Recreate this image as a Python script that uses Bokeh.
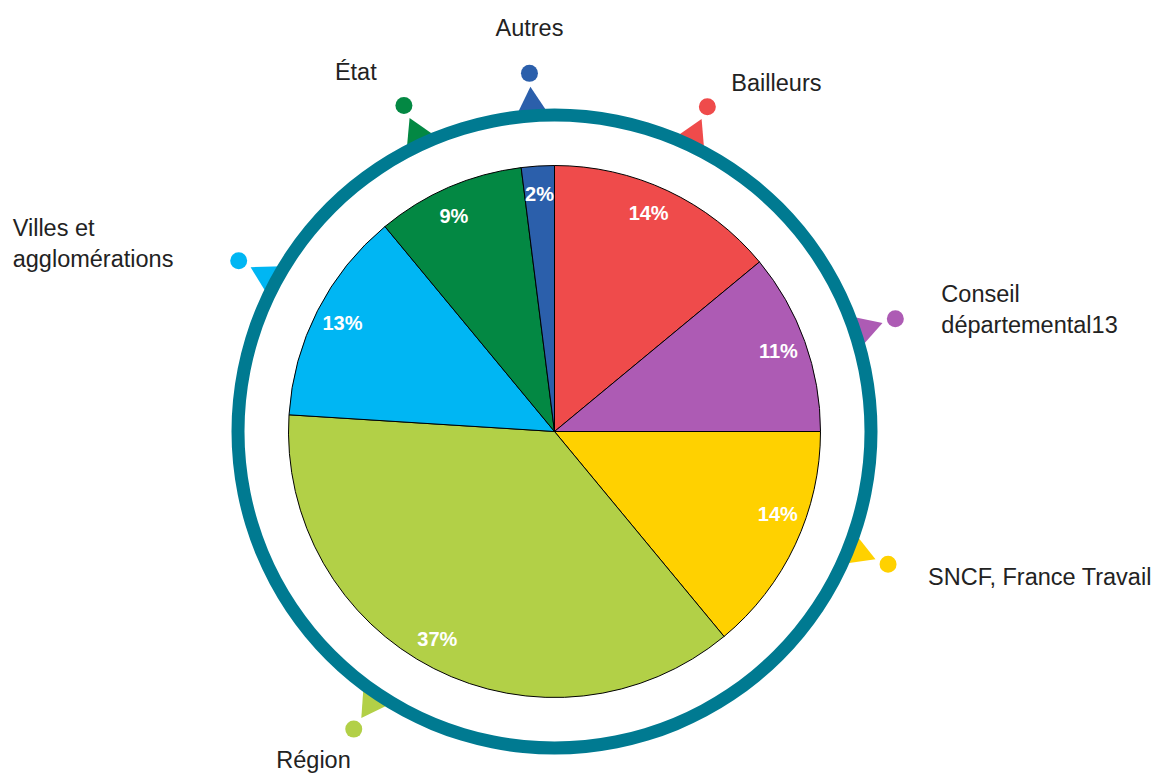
import math
from bokeh.plotting import figure
from bokeh.models import Range1d
from bokeh.core.properties import value
from bokeh.embed import file_html
from bokeh.resources import INLINE

# ---------------- data ----------------
categories = ["Bailleurs", "Conseil\ndépartemental13", "SNCF, France Travail",
              "Région", "Villes et\nagglomérations", "État", "Autres"]
shares = [14, 11, 14, 37, 13, 9, 2]
pct_labels = ["14%", "11%", "14%", "37%", "13%", "9%", "2%"]
colors = ["#EF4B4B", "#AD5BB4", "#FFD100", "#B2D047", "#00B6F3", "#038843", "#2B5FAB"]

# ---------------- layout / style ----------------
W, H = 1153, 776
CX, CY = 554, 431            # pie centre in screen pixels
R_PIE = 266
R_RING_IN, R_RING_OUT = 310, 323
R_DOT = 359
R_TRI = 327
R_PCT = 238
RING_COLOR = "#007A91"
FONT = "Liberation Sans"

# small angular nudges (degrees, clockwise) for marker and percent positions
marker_nudge = [0, 1.5, -3.5, 7, 1.4, -1.4, -0.4]
pct_nudge = [-1.9, 0, -5, 2.5, 0, -1.6, 0]
# label placement relative to the dot (screen px), align
label_place = [
    (24, -24, "left"),
    (46, -9, "left"),
    (40, 13, "left"),
    (-3, 31, "right"),
    (-226, -17, "left"),
    (-69, -34, "left"),
    (0, -45, "center"),
]

p = figure(width=W, height=H, x_range=Range1d(-CX, W - CX), y_range=Range1d(-(H - CY), CY),
           output_backend="svg", toolbar_location=None, min_border=0,
           x_axis_location=None, y_axis_location=None)
p.grid.visible = False
p.outline_line_color = None
p.background_fill_color = "white"

total = float(sum(shares))
cum = 0.0
starts, ends, mids = [], [], []
for s in shares:
    a0 = cum / total * 360.0
    cum += s
    a1 = cum / total * 360.0
    starts.append(math.radians(90 - a0))
    ends.append(math.radians(90 - a1))
    mids.append((a0 + a1) / 2.0)   # clockwise from top, degrees

# wedges
p.wedge(x=0, y=0, radius=R_PIE, start_angle=starts, end_angle=ends, direction="clock",
        fill_color=colors, line_color="black", line_width=1)

# triangles (under the ring)
tx, ty, tang, dx_, dy_ = [], [], [], [], []
for m, n in zip(mids, marker_nudge):
    a = math.radians(m + n)
    theta = math.pi / 2 - a
    tx.append(R_TRI * math.cos(theta))
    ty.append(R_TRI * math.sin(theta))
    tang.append(theta - math.pi / 2)
    dx_.append(R_DOT * math.cos(theta))
    dy_.append(R_DOT * math.sin(theta))
p.scatter(x=tx, y=ty, marker="triangle", size=32, angle=tang, fill_color=colors, line_color=None)

# ring
p.annulus(x=0, y=0, inner_radius=R_RING_IN, outer_radius=R_RING_OUT,
          fill_color=RING_COLOR, line_color=None)

# dots
p.scatter(x=dx_, y=dy_, marker="circle", size=17, fill_color=colors, line_color=None)

# percent labels
px, py = [], []
for m, n in zip(mids, pct_nudge):
    theta = math.pi / 2 - math.radians(m + n)
    px.append(R_PCT * math.cos(theta))
    py.append(R_PCT * math.sin(theta))
p.text(x=px, y=py, text=pct_labels, text_font=value(FONT), text_font_style="bold",
       text_font_size="20px", text_color="white", text_align="center", text_baseline="middle")

# category labels
for i, lab in enumerate(categories):
    ox, oy, al = label_place[i]
    p.text(x=[dx_[i]], y=[dy_[i]], text=[lab], x_offset=ox, y_offset=oy,
           text_font=value(FONT), text_font_size="23.5px", text_color="#222222",
           text_align=al, text_baseline="middle", text_line_height=1.2)

open("out.html", "w").write(file_html(p, INLINE))
